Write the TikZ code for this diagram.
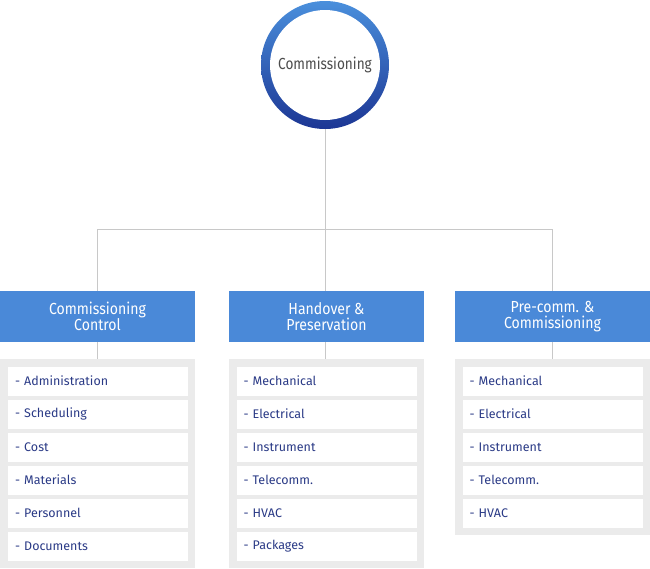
\documentclass[tikz,border=0pt]{standalone}
\usepackage{fontspec}
\setmainfont{Fira Sans}
\definecolor{headblue}{HTML}{4A89D8}
\definecolor{ringtop}{HTML}{4A8FDC}
\definecolor{ringbot}{HTML}{1C3694}
\definecolor{itemtext}{HTML}{2A3A86}
\definecolor{panelgray}{HTML}{EBEBEB}
\definecolor{linegray}{HTML}{C8C8C8}
\tikzset{
  head/.style={fill=headblue,text=white,minimum width=195pt,minimum height=51pt,
    inner sep=0pt,align=center,font=\fontsize{16}{16}\selectfont\addfontfeature{FakeStretch=0.88}},
  item/.style={fill=white,minimum width=180pt,minimum height=29pt,inner sep=0pt,
    text width=166pt,align=left,text=itemtext,font=\fontsize{12.5}{13}\selectfont},
  link/.style={draw=linegray,line width=0.8pt}
}
\begin{document}
\begin{tikzpicture}[x=1pt,y=-1pt]
\useasboundingbox (0,0) rectangle (650,568);
% root circle
\shade[top color=ringtop,bottom color=ringbot] (325,65) circle (64);
\node[circle,fill=white,minimum size=110pt,inner sep=0pt,text=black!70,
  font=\fontsize{16}{16}\selectfont\addfontfeature{FakeStretch=0.85}] (root) at (325,65) {Commissioning};
\coordinate (rb) at (325,129);
% headers
\node[head] (h1) at (97.5,316.5) {Commissioning\\Control};
\node[head] (h2) at (326.5,316.5) {Handover \&\\Preservation};
\node[head] (h3) at (552.5,316.5) {Pre-comm. \&\\Commissioning};
\coordinate (j) at (325,229);
\coordinate (j1) at (97,229);
\coordinate (j3) at (552,229);
\draw[link] (rb) -- (j) (j1) -- (j3) (j1) -- (j1 |- h1.north) (j) -- (j |- h2.north) (j3) -- (j3 |- h3.north);
% panels
\fill[panelgray] (0,359) rectangle (195,568);
\fill[panelgray] (229,359) rectangle (424,568);
\fill[panelgray] (455,359) rectangle (650,535);
\draw[link] (h1.south) -- ++(0,17) (h2.south -| j) -- ++(0,17) (h3.south -| j3) -- ++(0,17);
% items
\foreach \t [count=\i] in {Administration,Scheduling,Cost,Materials,Personnel,Documents}
  \node[item] (a\i) at (98,381+33*\i-33) {- \t};
\foreach \t [count=\i] in {Mechanical,Electrical,Instrument,Telecomm.,HVAC,Packages}
  \node[item] (b\i) at (326.5,381+33*\i-33) {- \t};
\foreach \t [count=\i] in {Mechanical,Electrical,Instrument,Telecomm.,HVAC}
  \node[item] (c\i) at (552.5,381+33*\i-33) {- \t};
\end{tikzpicture}
\end{document}
